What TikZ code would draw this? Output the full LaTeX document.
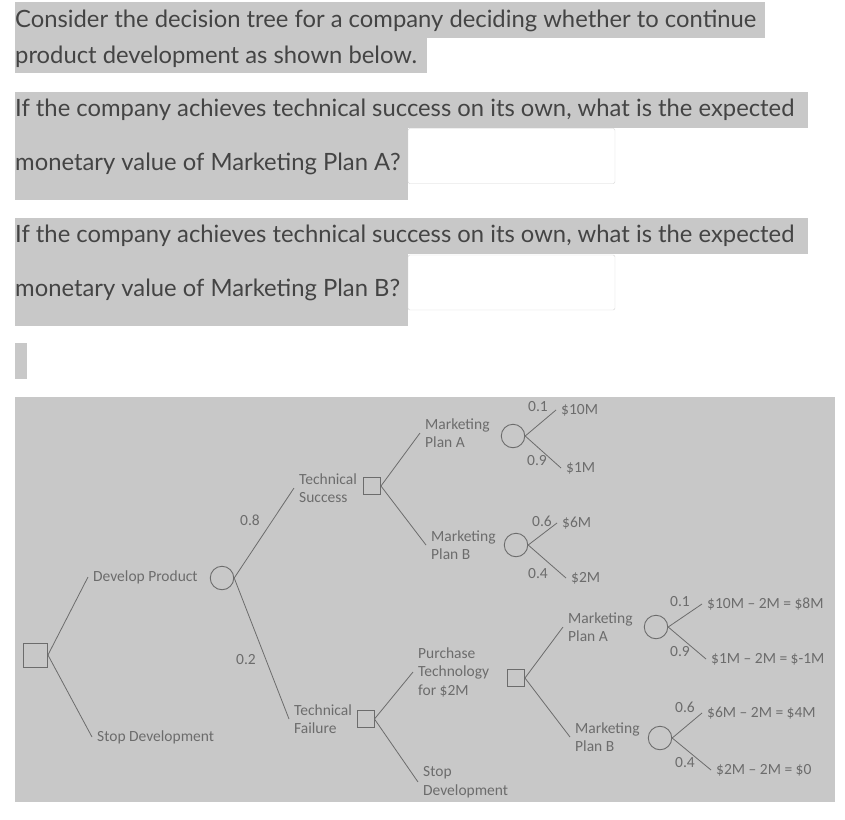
\documentclass[tikz,border=0pt]{standalone}
\usepackage{fontspec}
\setmainfont{Lato}
\newfontfamily\treefont{Carlito}
\usepackage{tikz}
\definecolor{hlgray}{RGB}{200,200,200}
\definecolor{qtext}{RGB}{68,68,68}
\definecolor{treegray}{RGB}{108,108,108}
\definecolor{boxline}{RGB}{212,212,212}
\tikzset{
	qline/.style={anchor=base west, inner sep=0pt, text=qtext,
		font=\fontsize{23.8}{28}\selectfont},
	answer/.style={draw=boxline, fill=white, rounded corners=2pt,
		minimum width=207pt, minimum height=55pt, inner sep=0pt},
	decision/.style={draw=treegray, rectangle, minimum size=17pt,
		inner sep=0pt, line width=0.9pt},
	chance/.style={draw=treegray, circle, minimum size=23.5pt,
		inner sep=0pt, line width=0.9pt},
	branch/.style={anchor=west, inner sep=5pt, align=left, text=treegray,
		font=\treefont\fontsize{15.5}{18.5}\selectfont},
	prob/.style={inner sep=0pt, text=treegray,
		font=\treefont\fontsize{15.5}{18.5}\selectfont},
	edge/.style={draw=treegray, line width=0.8pt}
}
\begin{document}
\begin{tikzpicture}[x=1pt,y=-1pt]
\useasboundingbox (0,0) rectangle (845,819);
% question highlights
\fill[hlgray] (15,2) rectangle (765,38);
\fill[hlgray] (15,38) rectangle (427,73);
\fill[hlgray] (15,92) rectangle (808,128);
\fill[hlgray] (15,128) rectangle (408,200);
\fill[hlgray] (15,218) rectangle (808,254);
\fill[hlgray] (15,254) rectangle (408,326);
\fill[hlgray] (15,343) rectangle (27,379);
% question text
\node[qline] (intro1) at (15,27.3) {Consider the decision tree for a company deciding whether to continue};
\node[qline] (intro2) at (15,63) {product development as shown below.};
\node[qline] (qA1) at (15,116.7) {If the company achieves technical success on its own, what is the expected};
\node[qline] (qA2) at (15,170) {monetary value of Marketing Plan A?};
\node[qline] (qB1) at (15,242.7) {If the company achieves technical success on its own, what is the expected};
\node[qline] (qB2) at (15,296) {monetary value of Marketing Plan B?};
\node[answer] (ansA) at (511.5,156) {};
\node[answer] (ansB) at (511.5,282.5) {};
% tree background
\fill[hlgray] (15,397) rectangle (835,802);
% decision and chance nodes
\node[decision, minimum size=24pt] (root) at (35.5,655) {};
\node[chance] (dev)   at (222,578) {};
\node[decision] (succ) at (372,486) {};
\node[decision] (fail) at (365.5,719) {};
\node[chance] (succA) at (513,436) {};
\node[chance] (succB) at (516,545) {};
\node[decision] (buy) at (516,678) {};
\node[chance] (buyA) at (656,627) {};
\node[chance] (buyB) at (660,738) {};
% branch labels
\node[branch] (lDev)   at (88,577)  {Develop Product};
\node[branch] (lStop)  at (92,737)  {Stop Development};
\node[branch] (lSucc)  at (294,488) {Technical\\Success};
\node[branch] (lFail)  at (289,719) {Technical\\Failure};
\node[branch] (lSuccA) at (420,433) {Marketing\\Plan A};
\node[branch] (lSuccB) at (426,545) {Marketing\\Plan B};
\node[branch] (lBuy)   at (413,672) {Purchase\\Technology\\for \$2M};
\node[branch] (lStop2) at (418,782) {Stop\\Development};
\node[branch] (lBuyA)  at (563,627) {Marketing\\Plan A};
\node[branch] (lBuyB)  at (570,737) {Marketing\\Plan B};
% payoffs
\node[branch] (vA10) at (556,410) {\$10M};
\node[branch] (vA1)  at (561,468) {\$1M};
\node[branch] (vB6)  at (557,523) {\$6M};
\node[branch] (vB2)  at (566,578) {\$2M};
\node[branch] (wA10) at (702,604) {\$10M – 2M = \$8M};
\node[branch] (wA1)  at (706,659) {\$1M – 2M = \$-1M};
\node[branch] (wB6)  at (702,713) {\$6M – 2M = \$4M};
\node[branch] (wB2)  at (711,770) {\$2M – 2M = \$0};
% probabilities
\node[prob] (pSucc) at (250,520) {0.8};
\node[prob] (pFail) at (246,660) {0.2};
\node[prob] (pA10)  at (538,407) {0.1};
\node[prob] (pA1)   at (537,461) {0.9};
\node[prob] (pB6)   at (542,521) {0.6};
\node[prob] (pB2)   at (538,574) {0.4};
\node[prob] (qA10)  at (680,602) {0.1};
\node[prob] (qA1)   at (680,652) {0.9};
\node[prob] (qB6)   at (685,707) {0.6};
\node[prob] (qB2)   at (685,763) {0.4};
% branches
\draw[edge] (root.east) -- (lDev.west);
\draw[edge] (root.east) -- (lStop.west);
\draw[edge] (dev.east) -- (lSucc.west);
\draw[edge] (dev.east) -- (lFail.west);
\draw[edge] (succ.east) -- (lSuccA.west);
\draw[edge] (succ.east) -- (lSuccB.west);
\draw[edge] (succA.east) -- (vA10.west);
\draw[edge] (succA.east) -- (vA1.west);
\draw[edge] (succB.east) -- (vB6.west);
\draw[edge] (succB.east) -- (vB2.west);
\draw[edge] (fail.east) -- (lBuy.west);
\draw[edge] (fail.east) -- (lStop2.west);
\draw[edge] (buy.east) -- (lBuyA.west);
\draw[edge] (buy.east) -- (lBuyB.west);
\draw[edge] (buyA.east) -- (wA10.west);
\draw[edge] (buyA.east) -- (wA1.west);
\draw[edge] (buyB.east) -- (wB6.west);
\draw[edge] (buyB.east) -- (wB2.west);
\end{tikzpicture}
\end{document}
